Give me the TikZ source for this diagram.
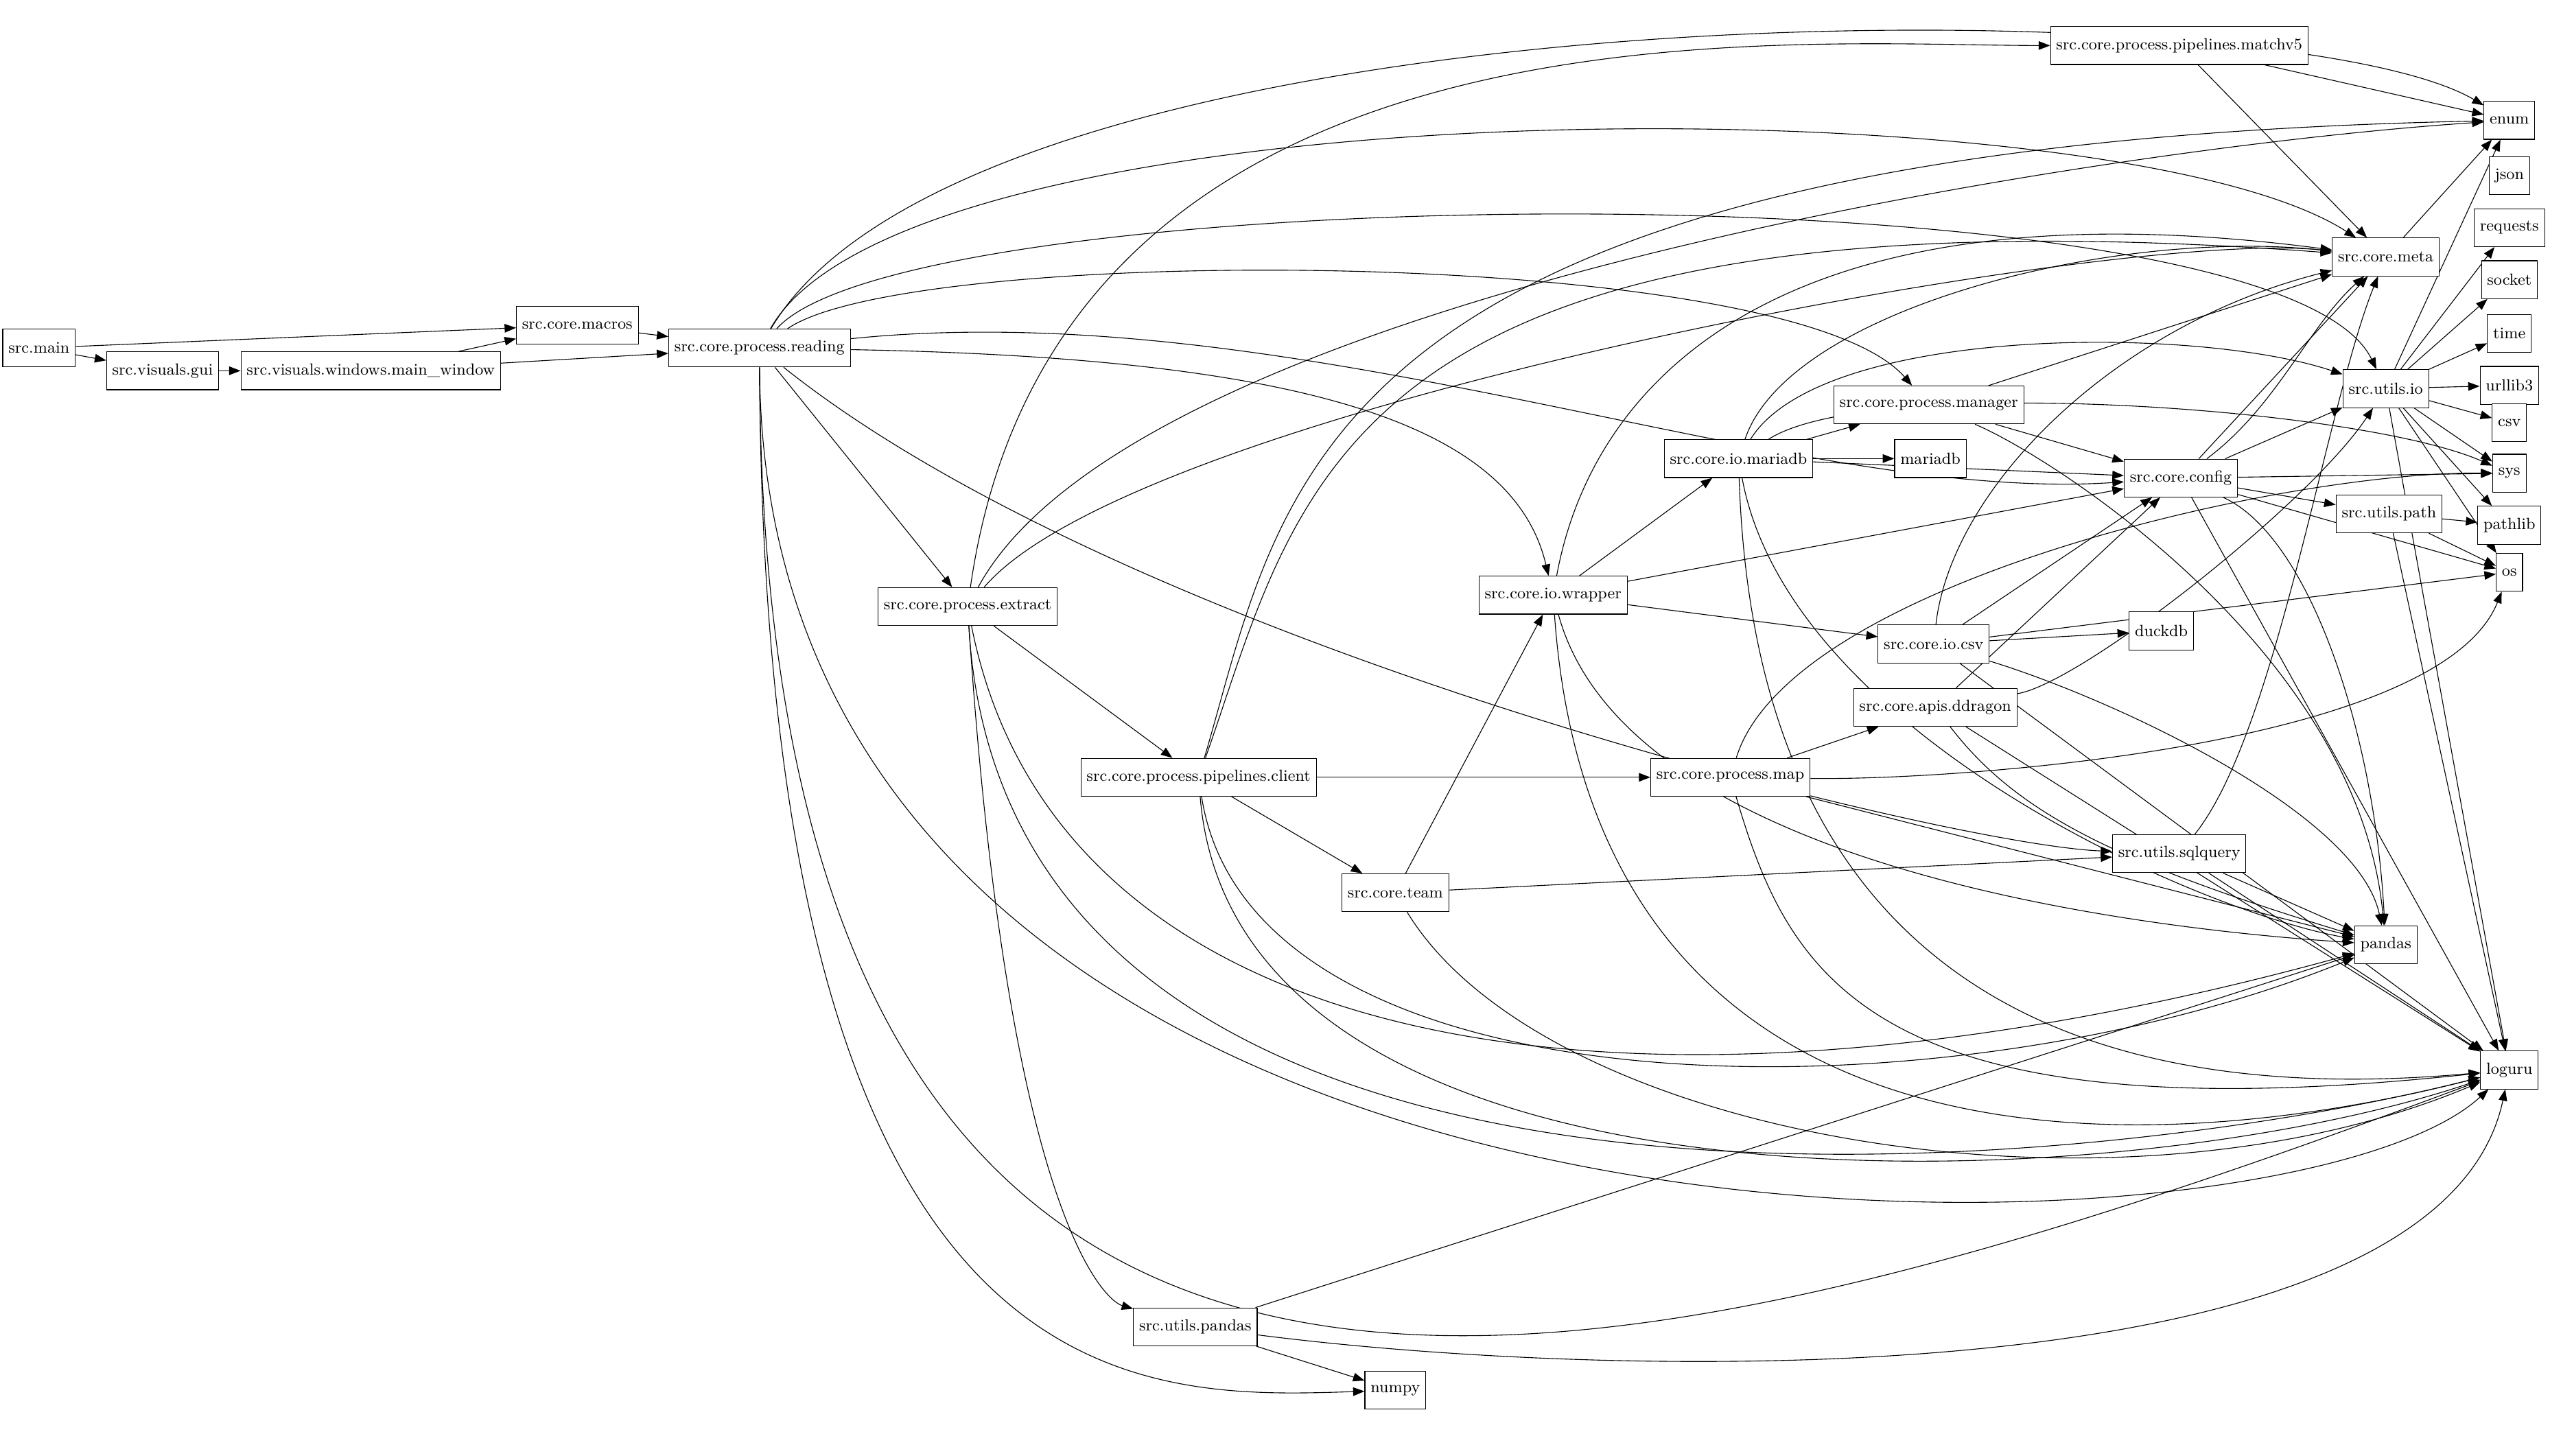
\documentclass[tikz,border=0pt]{standalone}
\usetikzlibrary{arrows.meta,backgrounds}
\begin{document}
\begin{tikzpicture}[x=0.03cm,y=-0.03cm,
 nd/.style={draw,thin,rectangle,minimum height=0.7cm,inner sep=3pt,font=\fontsize{8.5}{10}\selectfont,fill=white},
 e/.style={-{Triangle[length=6pt,width=4.5pt]},thin}]
\useasboundingbox (0,0) rectangle (1568,895);
\node[nd] (main) at (24,214) {src.main};
\node[nd] (gui) at (100,228) {src.visuals.gui};
\node[nd] (mw) at (228,228) {src.visuals.windows.main\_window};
\node[nd] (macros) at (355,200) {src.core.macros};
\node[nd] (reading) at (467,214) {src.core.process.reading};
\node[nd] (extract) at (595,373) {src.core.process.extract};
\node[nd] (client) at (737,478) {src.core.process.pipelines.client};
\node[nd] (team) at (858,549) {src.core.team};
\node[nd] (upandas) at (735,816) {src.utils.pandas};
\node[nd] (numpy) at (858,855) {numpy};
\node[nd] (wrapper) at (955,366) {src.core.io.wrapper};
\node[nd] (iomariadb) at (1069,282) {src.core.io.mariadb};
\node[nd] (mariadb) at (1187,282) {mariadb};
\node[nd] (manager) at (1186,249) {src.core.process.manager};
\node[nd] (iocsv) at (1189,396) {src.core.io.csv};
\node[nd] (duckdb) at (1329,388) {duckdb};
\node[nd] (ddragon) at (1190,435) {src.core.apis.ddragon};
\node[nd] (map) at (1064,478) {src.core.process.map};
\node[nd] (sqlquery) at (1340,525) {src.utils.sqlquery};
\node[nd] (matchv5) at (1340,28) {src.core.process.pipelines.matchv5};
\node[nd] (meta) at (1467,158) {src.core.meta};
\node[nd] (config) at (1341,294) {src.core.config};
\node[nd] (uio) at (1467,239) {src.utils.io};
\node[nd] (upath) at (1469,316) {src.utils.path};
\node[nd] (pandas) at (1467,581) {pandas};
\node[nd] (loguru) at (1543,658) {loguru};
\node[nd] (enum) at (1543,74) {enum};
\node[nd] (json) at (1543,108) {json};
\node[nd] (requests) at (1543,140) {requests};
\node[nd] (socket) at (1543,172) {socket};
\node[nd] (time) at (1543,205) {time};
\node[nd] (urllib) at (1543,237) {urllib3};
\node[nd] (csv) at (1543,260) {csv};
\node[nd] (sys) at (1543,291) {sys};
\node[nd] (pathlib) at (1543,323) {pathlib};
\node[nd] (os) at (1543,352) {os};

\begin{pgfonlayer}{background}
\draw[e] (main) -- (macros);
\draw[e] (main) -- (gui);
\draw[e] (gui) -- (mw);
\draw[e] (mw) -- (macros);
\draw[e] (mw) -- (reading);
\draw[e] (macros) -- (reading);
\draw[e] (reading) -- (extract);
\draw[e] (reading) .. controls (600,-10) and (1400,-10) .. (enum);
\draw[e] (reading) .. controls (560,50) and (1300,50) .. (meta);
\draw[e] (reading) .. controls (560,110) and (1400,100) .. (uio);
\draw[e] (reading) .. controls (560,150) and (1100,150) .. (manager);
\draw[e] (reading) .. controls (800,180) and (1100,310) .. (config);
\draw[e] (reading) .. controls (800,220) and (930,260) .. (wrapper);
\draw[e] (reading) .. controls (700,400) and (1200,520) .. (sqlquery);
\draw[e] (reading) .. controls (470,810) and (1400,790) .. (loguru);
\draw[e] (reading) .. controls (470,870) and (700,860) .. (numpy);
\draw[e] (reading) .. controls (470,1010) and (1000,860) .. (loguru);
\draw[e] (extract) .. controls (650,-10) and (1100,28) .. (matchv5);
\draw[e] (extract) .. controls (700,180) and (1300,90) .. (enum);
\draw[e] (extract) .. controls (700,250) and (1300,140) .. (meta);
\draw[e] (extract) -- (client);
\draw[e] (extract) .. controls (620,750) and (680,800) .. (upandas);
\draw[e] (extract) .. controls (650,650) and (1000,710) .. (pandas);
\draw[e] (extract) .. controls (620,800) and (1300,720) .. (loguru);
\draw[e] (client) .. controls (790,300) and (800,90) .. (enum);
\draw[e] (client) .. controls (800,300) and (820,110) .. (meta);
\draw[e] (client) -- (team);
\draw[e] (client) -- (map);
\draw[e] (client) .. controls (770,690) and (1200,690) .. (pandas);
\draw[e] (client) .. controls (760,760) and (1300,740) .. (loguru);
\draw[e] (team) -- (wrapper);
\draw[e] (team) -- (sqlquery);
\draw[e] (team) .. controls (950,700) and (1300,760) .. (loguru);
\draw[e] (upandas) -- (numpy);
\draw[e] (upandas) .. controls (1000,850) and (1500,860) .. (loguru);
\draw[e] (upandas) -- (pandas);
\draw[e] (wrapper) -- (iomariadb);
\draw[e] (wrapper) -- (config);
\draw[e] (wrapper) -- (iocsv);
\draw[e] (wrapper) .. controls (980,230) and (1100,110) .. (meta);
\draw[e] (wrapper) .. controls (1000,530) and (1300,570) .. (pandas);
\draw[e] (wrapper) .. controls (980,720) and (1300,720) .. (loguru);
\draw[e] (iomariadb) -- (mariadb);
\draw[e] (iomariadb) -- (manager);
\draw[e] (iomariadb) -- (config);
\draw[e] (iomariadb) .. controls (1100,190) and (1300,140) .. (meta);
\draw[e] (iomariadb) .. controls (1120,200) and (1350,200) .. (uio);
\draw[e] (iomariadb) .. controls (1150,230) and (1450,250) .. (sys);
\draw[e] (iomariadb) .. controls (1100,450) and (1350,560) .. (pandas);
\draw[e] (iomariadb) .. controls (1080,620) and (1300,680) .. (loguru);
\draw[e] (manager) -- (meta);
\draw[e] (manager) -- (config);
\draw[e] (manager) .. controls (1260,280) and (1450,400) .. (pandas);
\draw[e] (iocsv) -- (duckdb);
\draw[e] (iocsv) -- (config);
\draw[e] (iocsv) .. controls (1200,300) and (1300,200) .. (meta);
\draw[e] (iocsv) -- (os);
\draw[e] (iocsv) .. controls (1300,430) and (1450,500) .. (pandas);
\draw[e] (iocsv) -- (loguru);
\draw[e] (ddragon) -- (config);
\draw[e] (ddragon) .. controls (1280,420) and (1420,310) .. (uio);
\draw[e] (ddragon) .. controls (1240,500) and (1300,530) .. (pandas);
\draw[e] (ddragon) -- (loguru);
\draw[e] (map) -- (ddragon);
\draw[e] (map) .. controls (1200,480) and (1500,460) .. (os);
\draw[e] (map) -- (pandas);
\draw[e] (map) .. controls (1100,600) and (1150,700) .. (loguru);
\draw[e] (map) .. controls (1100,360) and (1400,290) .. (sys);
\draw[e] (sqlquery) -- (pandas);
\draw[e] (sqlquery) -- (loguru);
\draw[e] (sqlquery) .. controls (1400,450) and (1430,250) .. (meta);
\draw[e] (matchv5) -- (enum);
\draw[e] (matchv5) -- (meta);
\draw[e] (meta) -- (enum);
\draw[e] (config) -- (uio);
\draw[e] (config) -- (meta);
\draw[e] (config) .. controls (1400,250) and (1420,200) .. (meta);
\draw[e] (config) -- (upath);
\draw[e] (config) -- (sys);
\draw[e] (config) -- (os);
\draw[e] (config) .. controls (1420,330) and (1460,450) .. (pandas);
\draw[e] (config) -- (loguru);
\foreach \t in {enum,requests,socket,time,urllib,csv,sys,pathlib,os,loguru} \draw[e] (uio) -- (\t);
\draw[e] (upath) -- (pathlib);
\draw[e] (upath) -- (os);
\draw[e] (upath) -- (loguru);
\end{pgfonlayer}
\end{tikzpicture}
\end{document}
